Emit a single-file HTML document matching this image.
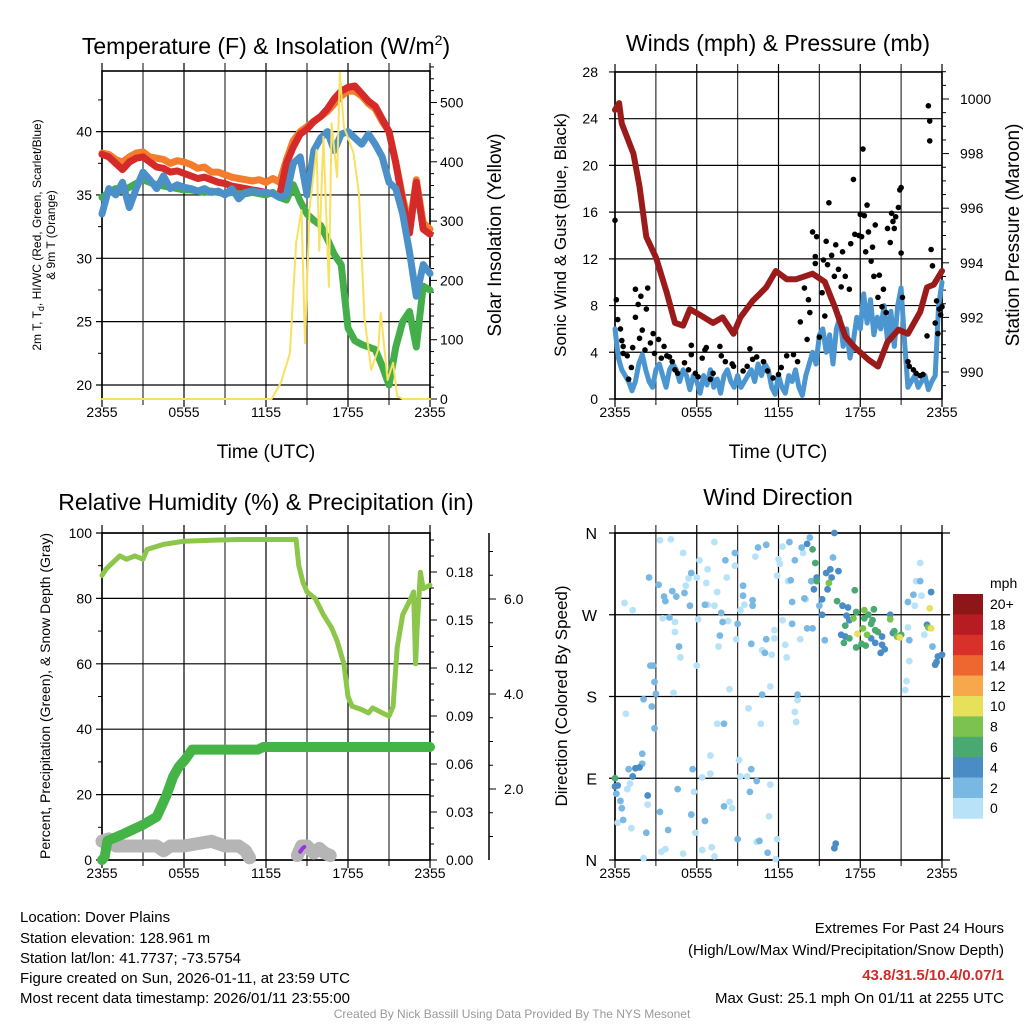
<!DOCTYPE html>
<html><head><meta charset="utf-8"><style>
html,body{margin:0;padding:0;background:#fff;}
svg{display:block;font-family:"Liberation Sans",Arial,sans-serif;}
</style></head><body>
<svg id="fig" width="1024" height="1024" viewBox="0 0 1024 1024" xmlns="http://www.w3.org/2000/svg">
<rect width="1024" height="1024" fill="#fff"/>
<g id="p1"></g>
<g id="p2"></g>
<g id="p3"></g>
<g id="p4"></g>

<text x="266" y="54" font-size="23" text-anchor="middle">Temperature (F) &amp; Insolation (W/m<tspan font-size="14" dy="-9">2</tspan><tspan dy="9">)</tspan></text>
<text x="778" y="51" font-size="23" text-anchor="middle">Winds (mph) &amp; Pressure (mb)</text>
<text x="266" y="510" font-size="23" text-anchor="middle">Relative Humidity (%) &amp; Precipitation (in)</text>
<text x="778" y="505" font-size="23" text-anchor="middle">Wind Direction</text>

<text x="266" y="458" font-size="19" text-anchor="middle">Time (UTC)</text>
<text x="778" y="458" font-size="19" text-anchor="middle">Time (UTC)</text>

<text transform="translate(41,235) rotate(-90)" font-size="12" text-anchor="middle">2m T, T<tspan font-size="9" dy="3">d</tspan><tspan dy="-3">, HI/WC (Red, Green, Scarlet/Blue)</tspan></text>
<text transform="translate(55,235) rotate(-90)" font-size="12" text-anchor="middle">&amp; 9m T (Orange)</text>
<text transform="translate(501,235) rotate(-90)" font-size="19" text-anchor="middle">Solar Insolation (Yellow)</text>
<text transform="translate(566,235) rotate(-90)" font-size="17" text-anchor="middle">Sonic Wind &amp; Gust (Blue, Black)</text>
<text transform="translate(1019,235) rotate(-90)" font-size="19" text-anchor="middle">Station Pressure (Maroon)</text>
<text transform="translate(50,696) rotate(-90)" font-size="14" text-anchor="middle">Percent, Precipitation (Green), &amp; Snow Depth (Gray)</text>
<text transform="translate(567,696) rotate(-90)" font-size="17" text-anchor="middle">Direction (Colored By Speed)</text>

<g font-size="15">
<text x="20" y="922">Location: Dover Plains</text>
<text x="20" y="943">Station elevation: 128.961 m</text>
<text x="20" y="963">Station lat/lon: 41.7737; -73.5754</text>
<text x="20" y="983">Figure created on Sun, 2026-01-11, at 23:59 UTC</text>
<text x="20" y="1003">Most recent data timestamp: 2026/01/11 23:55:00</text>
</g>
<g font-size="15" text-anchor="end">
<text x="1004" y="933">Extremes For Past 24 Hours</text>
<text x="1004" y="955">(High/Low/Max Wind/Precipitation/Snow Depth)</text>
<text x="1004" y="980" fill="#d42a2a" font-weight="bold">43.8/31.5/10.4/0.07/1</text>
<text x="1004" y="1003">Max Gust: 25.1 mph On 01/11 at 2255 UTC</text>
</g>
<text x="512" y="1018" font-size="12" fill="#999" text-anchor="middle">Created By Nick Bassill Using Data Provided By The NYS Mesonet</text>
</svg>
<script>
// ---------- DATA ----------
const timeTicks = ["2355","0555","1155","1755","2355"];
const tempTicks = [20,25,30,35,40];
const insolTicks = [0,100,200,300,400,500];
const windTicks = [0,4,8,12,16,20,24,28];
const presTicks = [990,992,994,996,998,1000];
const rhTicks = [0,20,40,60,80,100];
const precipTicks = ["0.00","0.03","0.06","0.09","0.12","0.15","0.18"];
const snowTicks = ["2.0","4.0","6.0"];
const dirTicks = ["N","E","S","W","N"];
const cbarLabels = ["20+","18","16","14","12","10","8","6","4","2","0"];
const cbarColors = ["#8e1518","#b81c23","#d8312a","#ef6730","#f7a84a","#e6e05a","#7cc24e","#4aa872","#4a8cc6","#7ab8e4","#b7e2f7"];

const tempRed = [38.2,38.0,37.5,37.0,37.6,37.9,38.0,37.6,37.2,37.1,36.8,36.9,36.7,36.5,36.3,36.4,36.2,36.0,35.9,35.7,35.6,35.5,35.4,35.3,35.2,35.1,35.0,37.5,38.8,39.8,40.2,40.8,41.2,41.8,42.6,43.2,43.5,43.6,43.0,42.4,42.0,41.0,40.0,37.5,34.5,32.0,36.0,32.3,31.9];
const tempOrange = [38.3,38.2,37.8,37.6,38.0,38.3,38.4,38.0,37.9,37.8,37.5,37.7,37.6,37.4,37.1,37.2,36.8,36.8,36.6,36.4,36.3,36.2,36.1,36.2,36.0,36.3,36.0,37.8,39.3,40.0,40.4,40.8,41.2,41.6,42.2,42.8,43.2,43.2,42.8,42.2,41.8,40.8,40.0,37.6,34.8,32.5,36.2,32.8,32.3];
const tempGreen = [34.8,35.2,35.5,35.3,35.6,35.9,36.2,36.0,35.8,35.7,35.6,35.5,35.4,35.4,35.3,35.2,35.3,35.2,35.1,35.2,35.1,35.1,35.2,35.1,35.0,35.2,34.8,34.6,35.8,34.5,33.5,33.0,32.6,31.5,30.3,29.5,24.5,23.5,23.2,23.0,22.8,21.5,20.0,23.0,25.0,25.8,23.0,27.8,27.5];
const tempBlue = [33.5,35.5,35.0,36.0,34.0,35.5,36.8,36.2,35.5,36.5,35.5,35.8,35.6,35.5,35.3,35.5,35.2,35.3,35.0,35.5,34.7,35.2,35.3,35.2,35.2,35.1,34.8,35.0,37.5,38.0,35.0,38.5,39.5,40.0,38.5,39.8,40.0,39.5,39.0,39.8,39.0,38.0,36.0,35.5,33.5,30.5,27.0,29.5,28.8];
const insolTimes = [0,12.4,13.1,13.75,14.2,14.6,14.85,15.2,15.7,15.9,16.2,16.6,16.8,17.2,17.4,17.7,18.4,18.8,19.2,19.7,20.2,20.4,20.9,21.3,21.6,22,24];
const insolValues = [0,0,28,77,263,318,94,324,420,250,442,189,465,374,550,459,415,347,138,49,83,145,32,61,5,0,0];

const windSpeed = [6,3.5,2.5,2,1.5,0.7,1.5,3,3.8,2.5,1.5,1,2.5,3,2,1,2.5,3,2.5,1.5,2.5,2,0.8,2,1.5,0.5,2,1.2,2.5,1,1.7,0.5,2,2.5,1.5,1,2,1,1.5,2,2.5,1.5,3,2,3,2.5,1,0.4,2,1,0.5,2,1.5,2.5,1,0.3,2,3,4,3,5.5,6,4,5.5,3,6,7,4.5,6,3.5,5,7,6,9,6.5,8.5,5.5,7,6,8,5,7.5,4.5,8,9.5,5,1,1.5,2,1,1.5,2,0.8,1.5,2,8,10];
const gustTimes = [0,0.1,0.2,0.4,0.5,0.6,0.6,0.9,1,1.2,1.3,1.5,1.5,1.7,1.8,1.9,2,2.2,2.3,2.4,2.6,2.8,2.9,3.2,3.4,3.6,3.8,4,4.2,4.4,4.6,5.1,5.4,5.6,5.6,5.9,6.1,6.4,6.6,6.7,7,7.2,7.7,7.8,8.1,8.6,8.7,9.4,9.7,9.9,10.1,10.4,10.9,11.2,11.6,12,12.2,12.6,13.1,13.4,13.6,13.9,14.1,14.2,14.3,14.5,14.7,14.7,14.8,15,15.2,15.3,15.4,15.5,15.6,15.7,15.9,16.1,16.2,16.4,16.6,16.7,16.9,17.2,17.3,17.5,17.6,17.9,18,18.1,18.2,18.3,18.4,18.5,18.6,18.8,18.9,19,19.1,19.3,19.4,19.6,19.7,19.9,20,20.2,20.3,20.4,20.5,20.6,20.8,20.9,21,21,21.1,21.5,21.6,21.9,22.1,22.4,22.6,22.9,23,23.1,23.1,23.2,23.3,23.5,23.6,23.7,23.8,24,23.9];
const gustValues = [15.3,8.5,6.8,6,5,4.5,3.9,3.7,1.7,2.7,4.4,7,9.4,8.1,5.2,8.8,5.9,4.2,7.7,9.5,4.8,5.6,3.9,5.1,3.5,4.5,3.7,3.6,3.2,2.5,2.2,3.1,2.5,4.6,3.8,2.2,1.9,3.5,4.2,4.4,1.7,2.2,4.5,3.7,3.2,3,2.8,2.4,2.8,4.3,3.4,3.6,3.2,2.4,1.8,2.1,2.7,3.7,3.8,3.2,6.6,9.5,5.1,8.5,7.4,14.3,11.6,12.2,13.9,5.3,9.1,11.9,7.1,13.5,11.5,16.8,12.3,10.5,13.2,11.1,9.6,12.6,10.5,9.4,13.3,18.8,14.1,14,15.8,13.9,21.4,15.7,12.6,16.6,14.3,11.8,13,10.5,14.9,8.7,10.6,7.9,9.4,7.4,14.6,13.4,15.9,15.2,14.6,15.6,16.4,17.9,18.1,12.5,8.7,3.2,2.8,2.5,2.2,2,2.1,5.4,25.1,23.8,22.1,12.8,11.4,6.5,8.4,5.6,7.7,7.9,7.2];
const presTimes = [0,0.3,0.5,1.35,1.8,2.3,3,3.8,4.4,5,5.5,6.2,7.2,7.9,8.7,9.2,10.1,11.1,11.8,12.6,13.3,14.5,15.4,16.2,16.9,17.6,18.6,19.3,20,20.8,21.5,22.4,22.9,23.4,24];
const presValues = [999.6,999.85,999.1,998,996.8,994.95,994.2,992.9,991.8,991.7,992.3,992.1,991.8,992,991.4,992,992.6,993.1,993.7,993.4,993.4,993.6,993.3,992.3,991.3,990.9,990.45,990.2,991.1,991.55,991.4,992.2,993.1,993.2,993.7];

const rhTimes = [0,0.3,0.8,1.3,1.8,2.4,3,3.3,4.5,6,8,10,12,14.2,14.4,14.7,15,15.6,16.2,16.8,17.2,17.7,18,18.3,19,19.5,19.8,20.5,21,21.3,21.6,22,22.6,22.8,22.95,23.05,23.3,23.5,24];
const rhValues = [87,89,91,93,92,93,92,95,96.5,97.5,97.8,98,98,98,90,85,82,80,75,71,67,60,50,47,46,45,46.5,45,44,47,65,75,80,82,60,70,88,83,84];
const precipTimes = [0,0.2,0.4,1.5,3,4,4.7,5.2,5.6,6.1,6.6,11.4,11.8,24];
const precipValues = [0,0.002,0.012,0.016,0.022,0.027,0.04,0.052,0.058,0.063,0.069,0.069,0.0706,0.0706];
const snowTimes1 = [0,0.5,1,2,3,4,4.5,5,6,7,8,9,10,10.5,10.8];
const snowValues1 = [0.9,0.95,0.8,0.8,0.8,0.8,0.7,0.8,0.8,0.85,0.9,0.8,0.8,0.7,0.55];
const snowTimes2 = [14.3,14.6,15,15.5,15.9,16.3,16.7];
const snowValues2 = [0.6,0.8,0.8,0.65,0.75,0.65,0.6];
const purpleTimes = [14.5,14.7,14.8];
const purpleValues = [0.68,0.76,0.78];

const dirLightT = [3.3,4.1,5,7.3,0.7,1.3,6.2,6.8,8.2,5.4,5.2,7.5,6.7,6,7.3,6.8,6.1,3.5,4.4,4.4,4.8,4.3,6,7.6,8.3,8.9,8.8,9.5,9.2,10.3,12,12.1,12.3,11.9,12.7,12.3,11.7,11.7,12.5,12.6,11.5,10.8,11.4,8.4,13.6,13.8,14,13.4,13.2,13.3,9.8,10.7,7.5,0.8,2.1,0.9,1.1,2.4,1.2,0.2,3.4,3.7,5,5.8,5.9,6.4,7.1,7.3,7,7,6.4,8.4,9.1,9.2,9.7,10.4,11.4,11.3,11.9,11.8,22.4,22.1,22.5,22,21.5,22.7,21.6,21.4,21.3,8.6];
const dirLightD = [352,353,338,350,283,275,330,320,311,310,302,295,305,311,280,281,265,266,262,251,223,184,214,235,263,243,324,281,275,334,331,326,345,313,307,264,253,244,237,223,226,231,191,188,243,338,287,176,163,152,167,150,150,161,2,78,84,61,35,41,9,12,7,75,30,11,14,4,95,115,91,64,110,92,92,20,83,48,23,1,327,307,291,280,256,248,219,197,187,57];
const dirMidT = [2.5,3.2,3.6,3.7,4.2,4.5,5.1,5.6,5.5,6.6,7.8,7.9,7.7,9,8.8,8.1,9.4,9.4,10.1,10.1,10,10.5,11.1,11.1,11,12.8,12.9,13.2,13,13.9,13.7,14.3,14.1,14.5,14.4,15,15.4,16,13,4,4.7,2.6,2.8,2.9,3,2.1,2.7,2.9,2,2,1,0.1,0.4,0.5,0.6,2.3,3.3,3.9,4.6,5.7,5.6,6.6,8,8,9,10,9.9,10.4,10.6,11.2,10.8,13.4,21.5,21.9,22.4,23.3,21.6];
const dirMidD = [311,303,290,285,296,290,294,316,280,281,272,262,247,260,338,330,302,291,286,280,238,344,347,243,228,350,308,330,284,288,344,355,255,255,307,280,242,333,260,267,235,214,214,196,183,177,169,145,117,106,100,73,65,57,44,30,53,33,78,100,50,43,150,59,23,100,75,87,21,8,182,182,284,292,307,235,242];
const dirDarkT = [16.1,14.1,14.6,14.8,15.2,15.2,15.6,15.5,15.8,16.4,15.9,16.7,17.1,17,17.2,16.9,16.6,19.1,19.6,19.5,19.8,18.8,19.6,20.2,20.4,23.2,22.9,1.5,1.8,1.3,0,0.2,2.4,16.2,16.1,23.5,23.7,24,23.6];
const dirDarkD = [360,348,298,311,287,270,298,316,320,318,311,280,278,269,264,246,248,239,237,228,232,244,246,270,250,295,259,101,102,92,81,82,71,18,13,215,224,226,218];
const dirGreenT = [14.5,14.7,14.8,16.3,17.6,16.9,17.2,16.8,17.7,18.4,18.3,18.6,19,19.3,18.8,19.1,20.5,20.8,21,17.7,18.1,0,18.9];
const dirGreenD = [342,327,307,285,297,258,244,239,234,236,266,270,276,251,260,253,252,246,248,273,238,90,264];
const dirLimeT = [15.7,17.5,18.3,18.5,18.2,20.2,23,20.7];
const dirLimeD = [305,266,275,248,255,265,256,246];
const dirYellowT = [23.1,17.8,20.9,23.2];
const dirYellowD = [277,249,245,255];
const groupSpeeds = [1,3,5,7,9,11];

// ---------- HELPERS ----------
const NS = "http://www.w3.org/2000/svg";
function mk(parent, tag, attrs, text) {
  const el = document.createElementNS(NS, tag);
  for (const k in attrs) el.setAttribute(k, attrs[k]);
  if (text !== undefined) el.textContent = text;
  parent.appendChild(el);
  return el;
}
function evenTimes(n) { const a = []; for (let i = 0; i < n; i++) a.push(24 * i / (n - 1)); return a; }
function pathD(xs, ys) { return xs.map((x, i) => (i ? "L" : "M") + x.toFixed(1) + " " + ys[i].toFixed(1)).join(""); }
function speedColor(s) { const idx = Math.min(10, Math.floor(s / 2)); return cbarColors[10 - idx]; }

function frame(g, x0, x1, y0, y1, name, gridYs, extendRight) {
  for (let k = 0; k <= 8; k++) {
    const x = x0 + k * (x1 - x0) / 8;
    const l = mk(g, "line", {x1: x, x2: x, y1: y0 - 8, y2: y1 + (k % 2 === 0 ? 8 : 6), stroke: k % 2 ? "#333" : "#000", "stroke-width": 1.2});
    
    
  }
  gridYs.forEach(y => {
    const l = mk(g, "line", {x1: x0 - 6, x2: extendRight || x1, y1: y, y2: y, stroke: "#000", "stroke-width": 1.2});
    
    
  });
  const r = mk(g, "rect", {x: x0, y: y0, width: x1 - x0, height: y1 - y0, fill: "none", stroke: "#000", "stroke-width": 1.6});
  
  
  timeTicks.forEach((t, i) => {
    const tx = mk(g, "text", {x: x0 + i * (x1 - x0) / 4, y: y1 + 18, "font-size": 14, "text-anchor": "middle"}, t);
    
    
  });
}
function line(g, xs, ys, color, w, name) {
  const p = mk(g, "path", {d: pathD(xs, ys), fill: "none", stroke: color, "stroke-width": w, "stroke-linejoin": "round", "stroke-linecap": "round"});
  
  
  return p;
}
function label(g, x, y, txt, anchor, name, size) {
  const t = mk(g, "text", {x: x, y: y, "font-size": size || 14, "text-anchor": anchor}, txt);
  
  
}
function tick(g, x1, x2, y, name) {
  const l = mk(g, "line", {x1: x1, x2: x2, y1: y, y2: y, stroke: "#000", "stroke-width": 1});
  
  
}

// ---------- PANEL 1 ----------
(function () {
  const g = document.getElementById("p1");
  const x0 = 102, x1 = 430, y0 = 71, y1 = 399;
  const xs = h => x0 + h / 24 * (x1 - x0);
  const yT = T => 385 - (T - 20) * 12.67;
  const yI = I => 399 - I * 0.593;
  frame(g, x0, x1, y0, y1, "p1", tempTicks.map(yT));
  tempTicks.forEach(t => label(g, 92, yT(t) + 5, String(t), "end", "p1-y-tick-label"));
  for (let t = 22.5; t < 45; t += 5) tick(g, x0 - 4, x0, yT(t), "p1-y-minor-tick");
  for (let v = 0; v <= 560; v += 20) tick(g, x1, x1 + (v % 100 === 0 ? 7 : 4), yI(v), "p1-right-tick");
  insolTicks.forEach(v => label(g, 440, yI(v) + 5, String(v), "start", "p1-right-tick-label"));
  const tt = evenTimes(tempGreen.length).map(xs);
  line(g, tt, tempOrange.map(yT), "#f47c2c", 7, "orange-9m-temp-line");
  line(g, tt, tempRed.map(yT), "#d42a2a", 7, "red-2m-temp-line");
  line(g, tt, tempGreen.map(yT), "#44ae4a", 7, "green-dewpoint-line");
  line(g, tt, tempBlue.map(yT), "#4b90c9", 7, "blue-windchill-line");
  line(g, insolTimes.map(xs), insolValues.map(yI), "#f8e060", 2, "yellow-insolation-line");
})();

// ---------- PANEL 2 ----------
(function () {
  const g = document.getElementById("p2");
  const x0 = 615, x1 = 942, y0 = 72, y1 = 399;
  const xs = h => x0 + h / 24 * (x1 - x0);
  const yW = v => 399 - v * 11.68;
  const yP = p => 372 - (p - 990) * 27.3;
  frame(g, x0, x1, y0, y1, "p2", windTicks.map(yW));
  windTicks.forEach(t => label(g, 598, yW(t) + 5, String(t), "end", "p2-y-tick-label"));
  for (let p = 989.5; p <= 1001.01; p += 0.5) tick(g, x1, x1 + (Math.abs(p - Math.round(p / 2) * 2) < 0.01 ? 7 : 4), yP(p), "p2-right-tick");
  presTicks.forEach(p => label(g, 960, yP(p) + 5, String(p), "start", "p2-right-tick-label"));
  line(g, evenTimes(windSpeed.length).map(xs), windSpeed.map(yW), "#4b95d0", 5, "blue-sonic-wind-line");
  gustTimes.forEach((t, i) => {
    const c = mk(g, "circle", {cx: xs(t), cy: yW(gustValues[i]), r: 2.8, fill: "#000"});
    
    
  });
  line(g, presTimes.map(xs), presValues.map(yP), "#9b1b1b", 6, "maroon-pressure-line");
})();

// ---------- PANEL 3 ----------
(function () {
  const g = document.getElementById("p3");
  const x0 = 102, x1 = 430, y0 = 533, y1 = 860;
  const xs = h => x0 + h / 24 * (x1 - x0);
  const yR = v => 860 - v * 3.27;
  const yPr = p => 860 - p * 1600;
  const yS = s => 884 - s * 47.5;
  frame(g, x0, x1, y0, y1, "p3", rhTicks.map(yR));
  rhTicks.forEach(t => label(g, 92, yR(t) + 5, String(t), "end", "p3-y-tick-label"));
  for (let t = 10; t < 100; t += 20) tick(g, x0 - 4, x0, yR(t), "p3-y-minor-tick");
  for (let k = 0; k <= 20; k++) tick(g, x1, x1 + (k % 3 === 0 ? 7 : 4), yPr(k * 0.01), "p3-precip-tick");
  precipTicks.forEach(p => label(g, 446, yPr(parseFloat(p)) + 5, p, "start", "p3-precip-tick-label"));
  const ax = mk(g, "line", {x1: 489, x2: 489, y1: y0, y2: y1, stroke: "#000", "stroke-width": 1.5});
  
  
  for (let s = 1; s <= 7; s += 0.5) if (yS(s) >= y0 && yS(s) <= y1) tick(g, 489, 489 + (s % 2 === 0 ? 7 : 4), yS(s), "snow-depth-tick");
  snowTicks.forEach(s => label(g, 504, yS(parseFloat(s)) + 5, s, "start", "snow-depth-tick-label"));
  line(g, snowTimes1.map(xs), snowValues1.map(yS), "#b5b5b5", 13, "gray-snow-depth-line-1");
  line(g, snowTimes2.map(xs), snowValues2.map(yS), "#b5b5b5", 13, "gray-snow-depth-line-2");
  line(g, purpleTimes.map(xs), purpleValues.map(yS), "#9b30e6", 4, "purple-snowfall-line");
  line(g, precipTimes.map(xs), precipValues.map(yPr), "#44b447", 10, "green-precipitation-line");
  line(g, rhTimes.map(xs), rhValues.map(yR), "#8cc64a", 5, "relative-humidity-line");
})();

// ---------- PANEL 4 ----------
(function () {
  const g = document.getElementById("p4");
  const x0 = 615, x1 = 942, y0 = 533, y1 = 860;
  const xs = h => x0 + h / 24 * (x1 - x0);
  const yD = d => 860 - d * 327 / 360;
  frame(g, x0, x1, y0, y1, "p4", [0, 90, 180, 270, 360].map(yD), 950);
  dirTicks.forEach((t, i) => label(g, 597, yD(i * 90) + 6, t, "end", "p4-y-tick-label", 16));
  const groups = [[dirLightT, dirLightD], [dirMidT, dirMidD], [dirDarkT, dirDarkD], [dirGreenT, dirGreenD], [dirLimeT, dirLimeD], [dirYellowT, dirYellowD]];
  groups.forEach((gr, gi) => {
    const col = speedColor(groupSpeeds[gi]);
    gr[0].forEach((t, i) => {
      const c = mk(g, "circle", {cx: xs(t), cy: yD(gr[1][i]), r: 3.4, fill: col});
      
      
    });
  });
  const cb = mk(g, "g", {});
  
  
  const top = 594, bh = 20.4;
  label(cb, 990, 588, "mph", "start", "colorbar-title", 14);
  cbarColors.forEach((c, i) => {
    const r = mk(cb, "rect", {x: 953, y: top + i * bh, width: 30, height: bh + 0.3, fill: c});
    
    
    label(cb, 990, top + i * bh + bh / 2 + 5, cbarLabels[i], "start", "colorbar-label", 14);
  });
})();
</script>
</body></html>
